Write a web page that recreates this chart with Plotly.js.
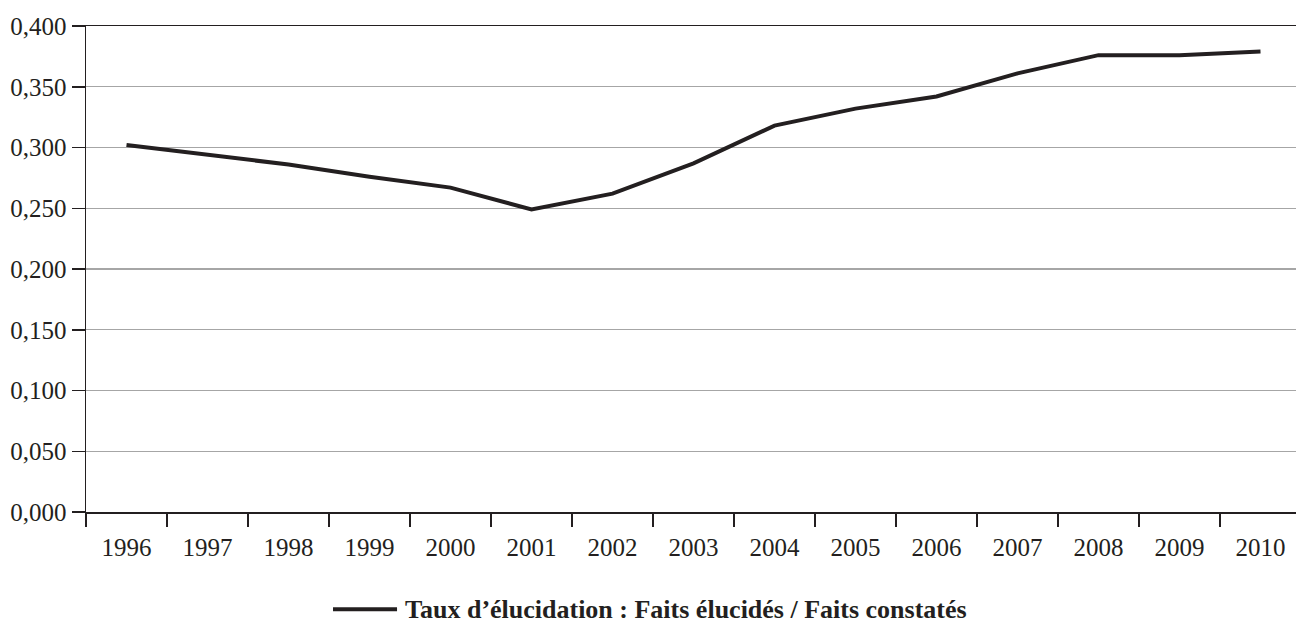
<!DOCTYPE html>
<html>
<head>
<meta charset="utf-8">
<script src="https://cdn.plot.ly/plotly-3.0.1.min.js"></script>
<style>
html, body { margin:0; padding:0; overflow:hidden; background:#fff; }
#chart { width:1310px; height:625px; }
</style>
</head>
<body>
<div id="chart"></div>
<script>
const years = ["1996","1997","1998","1999","2000","2001","2002","2003","2004","2005","2006","2007","2008","2009","2010"];
const tauxElucidation = [0.302, 0.294, 0.286, 0.276, 0.267, 0.249, 0.262, 0.287, 0.318, 0.332, 0.342, 0.361, 0.376, 0.376, 0.379];
const seriesName = "Taux d’élucidation : Faits élucidés / Faits constatés";
const yTickVals = [0, 0.05, 0.1, 0.15, 0.2, 0.25, 0.3, 0.35, 0.4];

const ink = "#231f20";
const serif = "Liberation Serif, Times New Roman, serif";
const trace = {
  x: years,
  y: tauxElucidation,
  type: "scatter",
  mode: "lines",
  name: seriesName,
  line: { color: ink, width: 4 }
};

const layout = {
  width: 1310,
  height: 625,
  margin: { l: 86, r: 9, t: 26, b: 113 },
  paper_bgcolor: "#fff",
  plot_bgcolor: "#fff",
  separators: ", ",
  font: { family: serif, size: 25, color: ink },
  showlegend: false,
  shapes: [{
    type: "line", xref: "paper", yref: "paper",
    x0: 0.2033, x1: 0.256, y0: -0.2, y1: -0.2,
    line: { color: ink, width: 4 }
  }],
  annotations: [{
    xref: "paper", yref: "paper",
    x: 0.2609, xanchor: "left",
    y: -0.2, yanchor: "middle",
    showarrow: false,
    text: "<b>" + seriesName + "</b>",
    font: { family: serif, size: 26, color: ink }
  }],
  xaxis: {
    type: "category",
    tickson: "boundaries",
    ticks: "outside",
    ticklen: 13,
    tickwidth: 1.5,
    tickcolor: ink,
    ticklabelstandoff: 12,
    showline: true,
    linecolor: ink,
    linewidth: 1.5,
    mirror: true,
    showgrid: false,
    range: [-0.5, 14.5],
    tickfont: { family: serif, size: 25, color: ink }
  },
  yaxis: {
    range: [0, 0.4],
    tickvals: yTickVals,
    tickformat: ".3f",
    ticks: "outside",
    ticklen: 13,
    tickwidth: 1.5,
    tickcolor: ink,
    showline: true,
    linecolor: ink,
    linewidth: 1.5,
    showgrid: true,
    gridcolor: "#a6a6a6",
    gridwidth: 1.2,
    zeroline: false,
    tickfont: { family: serif, size: 25, color: ink }
  }
};

Plotly.newPlot("chart", [trace], layout, { displayModeBar: false, staticPlot: true });
</script>
</body>
</html>
